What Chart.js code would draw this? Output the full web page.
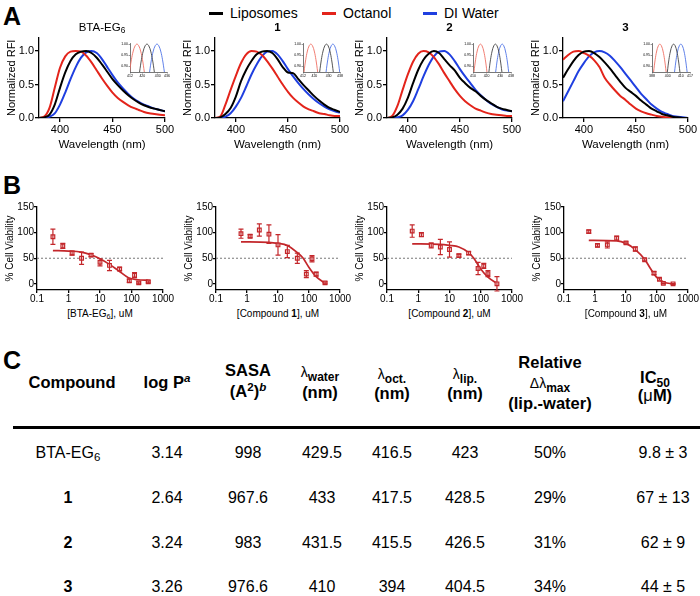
<!DOCTYPE html>
<html>
<head>
<meta charset="utf-8">
<script src="https://cdn.jsdelivr.net/npm/chart.js@4.4.0/dist/chart.umd.min.js"></script>
<style>
  body { margin: 0; width: 700px; height: 596px; position: relative; background: #fff; overflow: hidden;
         font-family: 'Liberation Sans', Arial, sans-serif; color: #000; }
  canvas { position: absolute; }
  .t { position: absolute; white-space: nowrap; text-align: center; }
  .panel { position: absolute; font-weight: bold; font-size: 25px; }
  .leg { position: absolute; font-size: 14px; line-height: 16px; }
  .sw { display: inline-block; width: 14px; height: 3px; vertical-align: middle; margin-right: 7px; margin-top: -2px; }
  sub { font-size: 0.72em; vertical-align: -0.3em; line-height: 0; }
  sup { font-size: 0.7em; vertical-align: 0.5em; line-height: 0; }
  .hd { font-weight: bold; font-size: 16.5px; }
  .lam { font-weight: normal; font-size: 14px; }
  .hd sub { font-size: 12px; }
  .val { font-size: 16px; }
</style>
</head>
<body>
<div class="panel" style="left:3px;top:2px">A</div>
<div class="panel" style="left:3px;top:171px">B</div>
<div class="panel" style="left:3px;top:346px">C</div>

<div class="leg" style="left:209px;top:5px"><span class="sw" style="background:#000"></span>Liposomes</div>
<div class="leg" style="left:322px;top:5px"><span class="sw" style="background:#e3241b"></span>Octanol</div>
<div class="leg" style="left:423px;top:5px"><span class="sw" style="background:#1f3fe0"></span>DI Water</div>

<script>
// ---- panel A: normalized emission spectra ----
const wavelengths = [380,385,390,395,400,405,410,415,420,425,430,435,440,445,450,455,460,465,470,475,480,485,490,495,500];

const btaLip   = [0,0.01,0.05,0.2,0.45,0.68,0.85,0.95,0.99,1.0,0.97,0.9,0.8,0.69,0.58,0.49,0.41,0.34,0.28,0.23,0.19,0.16,0.14,0.12,0.10];
const btaOct   = [0,0.02,0.15,0.45,0.75,0.92,0.99,1.0,0.99,0.93,0.83,0.71,0.59,0.48,0.38,0.30,0.24,0.19,0.15,0.12,0.09,0.07,0.06,0.05,0.04];
const btaWater = [0,0,0.02,0.07,0.2,0.38,0.58,0.76,0.9,0.98,1.0,0.97,0.88,0.76,0.64,0.53,0.44,0.36,0.29,0.24,0.2,0.17,0.14,0.12,0.10];

const c1Lip   = [0,0.01,0.06,0.15,0.32,0.55,0.72,0.85,0.95,0.99,1.0,0.97,0.88,0.76,0.68,0.67,0.58,0.49,0.41,0.33,0.26,0.2,0.15,0.12,0.09];
const c1Oct   = [0,0.02,0.2,0.42,0.63,0.82,0.95,1.0,0.99,0.94,0.85,0.74,0.62,0.5,0.39,0.3,0.23,0.17,0.13,0.1,0.07,0.06,0.04,0.03,0.03];
const c1Water = [0,0,0.02,0.07,0.17,0.3,0.47,0.65,0.8,0.92,0.99,1.0,0.95,0.85,0.73,0.62,0.52,0.43,0.35,0.28,0.22,0.17,0.13,0.1,0.08];

const c2Lip   = [0,0.01,0.05,0.14,0.3,0.52,0.72,0.87,0.96,1.0,0.97,0.88,0.79,0.71,0.6,0.52,0.45,0.4,0.33,0.27,0.22,0.17,0.14,0.12,0.1];
const c2Oct   = [0,0.03,0.18,0.42,0.65,0.84,0.96,1.0,0.98,0.91,0.8,0.67,0.55,0.43,0.33,0.25,0.19,0.14,0.11,0.08,0.06,0.05,0.04,0.03,0.03];
const c2Water = [0,0,0.01,0.04,0.12,0.25,0.43,0.62,0.79,0.92,0.99,1.0,0.95,0.85,0.73,0.62,0.52,0.42,0.34,0.27,0.21,0.17,0.13,0.11,0.1];

const c3Lip   = [0.6,0.73,0.85,0.94,0.99,1.0,0.97,0.91,0.83,0.74,0.64,0.54,0.45,0.39,0.33,0.26,0.2,0.14,0.1,0.06,0.04,0.02,0.01,0,0];
const c3Oct   = [0.87,0.94,0.99,1.0,0.97,0.93,0.86,0.76,0.6,0.5,0.41,0.33,0.27,0.2,0.14,0.1,0.07,0.05,0.03,0.02,0.01,0.01,0,0,0];
const c3Water = [0.25,0.4,0.55,0.7,0.82,0.92,0.98,1.0,0.98,0.93,0.85,0.76,0.66,0.56,0.46,0.36,0.28,0.2,0.14,0.09,0.06,0.03,0.02,0.01,0];

const liposomes = [btaLip, c1Lip, c2Lip, c3Lip];
const octanol   = [btaOct, c1Oct, c2Oct, c3Oct];
const diWater   = [btaWater, c1Water, c2Water, c3Water];

// inset arc shape (peak-normalised, nm offset from the maximum)
const arcDx = [-4.8,-3.6,-2.4,-1.2,0,1.2,2.4,3.6,4.8];
const arcY  = [0.875,0.93,0.969,0.992,1.0,0.992,0.969,0.93,0.875];

// ---- panel B: cell viability ----
const concB = [
  [0.32,0.66,1.3,2.6,5.2,10,20,42,85,125,170,340],
  [0.64,1.26,2.5,5.1,10,20,42,82,125,170,330],
  [0.64,1.26,2.6,5.1,10,20,41,82,125,170,330],
  [0.63,1.2,2.5,5,10,20,40,80,120,160,330]
];
const viability = [
  [92,74,60,50,56,42,36,29,6,17,2,4],
  [98,93,105,97,76,63,50,19,49,19,2],
  [103,96,75,72,67,55,60,30,35,20,0],
  [102,75,76,89,80,68,47,21,9,1,0]
];
const viabErr = [
  [15,5,4,12,3,7,10,3,3,5,2,2],
  [9,3,12,18,20,12,10,7,6,4,2],
  [12,4,5,15,15,3,3,12,5,6,14],
  [3,3,6,4,2,4,2,3,2,1,1]
];
const fitX = [
  [0.32,1,2.5,5,10,20,40,80,160,340],
  [0.64,5,10,20,42,65,100,170,330],
  [0.64,5,10,20,41,60,100,170,330],
  [0.63,5,10,20,40,60,100,170,330]
];
const fitY = [
  [65,64,62,57,49,38,25,12,8,7],
  [82,81,79,75,61,50,32,14,1],
  [78,77,75,72,61,50,29,13,1],
  [85,84,79,67,48,31,12,3,0]
];
const refLine = [50, 50];

// ---- panel C: table ----
const compounds   = ['BTA-EG6', '1', '2', '3'];
const logP        = ['3.14', '2.64', '3.24', '3.26'];
const sasa        = ['998', '967.6', '983', '976.6'];
const lambdaWater = [429.5, 433, 431.5, 410];
const lambdaOct   = [416.5, 417.5, 415.5, 394];
const lambdaLip   = [423, 428.5, 426.5, 404.5];
const relShift    = ['50%', '29%', '31%', '34%'];
const ic50        = ['9.8 ± 3', '67 ± 13', '62 ± 9', '44 ± 5'];

const spectraTitles = ['BTA-EG<sub>6</sub>', '<b>1</b>', '<b>2</b>', '<b>3</b>'];
const concTitles = ['[BTA-EG<sub>6</sub>], uM', '[Compound <b>1</b>], uM', '[Compound <b>2</b>], uM', '[Compound <b>3</b>], uM'];

// ---------------------------------------------------------------
Chart.defaults.font.family = "'Liberation Sans', Arial, sans-serif";
Chart.defaults.color = '#000';
Chart.defaults.animation = false;

const RED = '#e3241b', BLUE = '#1f3fe0', DARKRED = '#c3272b';

const mkCanvas = (x, y, w, h) => {
  const c = document.createElement('canvas');
  c.width = w; c.height = h;
  c.style.left = x + 'px'; c.style.top = y + 'px';
  document.body.appendChild(c);
  return c;
};

const putText = (html, cx, top, cls, style) => {
  const d = document.createElement('div');
  d.className = 't ' + (cls || '');
  d.style.left = (cx - 150) + 'px';
  d.style.width = '300px';
  d.style.top = top + 'px';
  if (style) d.style.cssText += style;
  d.innerHTML = html;
  document.body.appendChild(d);
};

const axisLine = { display: true, color: '#000', width: 1.3 };
const tickGrid = (len) => ({ display: true, drawOnChartArea: false, drawTicks: true, tickLength: len, color: '#000', lineWidth: 1.3 });
const setTicks = (vals) => (s) => { s.ticks = vals.map(v => ({ value: v })); };
const pts = (xs, ys) => xs.map((x, k) => ({ x: x, y: ys[k] }));

// error bar plugin - uses the chart's own scales
const errorBars = {
  id: 'errorBars',
  afterDatasetsDraw(chart) {
    const { ctx, scales: { x, y } } = chart;
    chart.data.datasets.forEach(ds => {
      if (!ds.errors) return;
      ctx.save();
      ctx.strokeStyle = ds.borderColor;
      ctx.lineWidth = 1.2;
      ds.data.forEach((p, k) => {
        const e = ds.errors[k];
        if (!e) return;
        const px = x.getPixelForValue(p.x);
        const t = y.getPixelForValue(p.y + e), b = y.getPixelForValue(p.y - e);
        ctx.beginPath();
        ctx.moveTo(px, t); ctx.lineTo(px, b);
        ctx.moveTo(px - 2.5, t); ctx.lineTo(px + 2.5, t);
        ctx.moveTo(px - 2.5, b); ctx.lineTo(px + 2.5, b);
        ctx.stroke();
      });
      ctx.restore();
    });
  }
};

// ---- panel A charts ----
const specPlots = [[39, 165], [215, 340], [387, 512], [563, 688]];
const insetBox  = [[130, 167], [303, 340], [473, 511], [652, 690]];
const insetX    = [[412, 436], [412, 438], [410, 438], [388, 417]];

specPlots.forEach(([l, r], i) => {
  const cv = mkCanvas(l - 39, 30, r - l + 39 + 14, 122);
  new Chart(cv, {
    type: 'line',
    data: { datasets: [
      { label: 'Liposomes', data: pts(wavelengths, liposomes[i]), borderColor: '#000' },
      { label: 'Octanol', data: pts(wavelengths, octanol[i]), borderColor: RED },
      { label: 'DI Water', data: pts(wavelengths, diWater[i]), borderColor: BLUE }
    ] },
    options: {
      responsive: false,
      layout: { padding: { top: 7, right: 14, left: 0, bottom: 0 } },
      elements: { point: { radius: 0 }, line: { borderWidth: 2, cubicInterpolationMode: 'monotone' } },
      plugins: { legend: { display: false }, tooltip: { enabled: false } },
      scales: {
        x: { type: 'linear', min: 380, max: 500, afterBuildTicks: setTicks([400, 450, 500]),
             afterFit: s => { s.height = 34; }, border: axisLine, grid: tickGrid(4),
             ticks: { font: { size: 11 }, padding: 1, maxRotation: 0 },
             title: { display: true, text: 'Wavelength (nm)', font: { size: 11.5 }, padding: 0 } },
        y: { min: 0, max: 1.2, afterBuildTicks: setTicks([0, 0.5, 1]),
             afterFit: s => { s.width = 39; }, border: axisLine, grid: tickGrid(4),
             ticks: { font: { size: 11 }, padding: 1, callback: v => v.toFixed(1) },
             title: { display: true, text: 'Normalized RFI', font: { size: 11 }, padding: { top: 5, bottom: 0 } } }
      }
    }
  });
  putText(spectraTitles[i], (l + r) / 2, 21, '', 'font-size:11.5px');

  // inset: zoom on the maxima
  const [il, ir] = insetBox[i];
  const peaks = [lambdaLip[i], lambdaOct[i], lambdaWater[i]];
  const arc = (p) => arcDx.map((d, k) => ({ x: p + d, y: arcY[k] }));
  const ic = mkCanvas(il - 11, 40, ir - il + 11 + 3, 38);
  new Chart(ic, {
    type: 'line',
    data: { datasets: [
      { data: arc(peaks[0]), borderColor: '#444' },
      { data: arc(peaks[1]), borderColor: '#ef6f63' },
      { data: arc(peaks[2]), borderColor: '#4f74e6' }
    ] },
    options: {
      responsive: false,
      layout: { padding: { top: 3, right: 3, left: 0, bottom: 0 } },
      elements: { point: { radius: 0 }, line: { borderWidth: 0.9, tension: 0.4 } },
      plugins: { legend: { display: false }, tooltip: { enabled: false } },
      scales: {
        x: { type: 'linear', min: insetX[i][0], max: insetX[i][1],
             afterFit: s => { s.height = 6; }, border: { display: true, color: '#555', width: 0.8 },
             grid: { display: true, drawOnChartArea: false, tickLength: 1.5, color: '#555', lineWidth: 0.6 },
             ticks: { font: { size: 3.5 }, padding: 0, stepSize: 10, maxRotation: 0 } },
        y: { min: 0.875, max: 1.005, afterBuildTicks: setTicks([0.9, 0.95, 1.0]),
             afterFit: s => { s.width = 11; }, border: { display: true, color: '#555', width: 0.8 },
             grid: { display: true, drawOnChartArea: false, tickLength: 1.5, color: '#555', lineWidth: 0.6 },
             ticks: { font: { size: 3.5 }, padding: 0.5, callback: v => v.toFixed(2) } }
      }
    }
  });
});

// ---- panel B charts ----
const viabPlots = [[37, 163], [216, 340], [387, 512], [564, 688]];

viabPlots.forEach(([l, r], i) => {
  const cv = mkCanvas(l - 37, 200, r - l + 37 + 14, 106);
  new Chart(cv, {
    type: 'line',
    data: { datasets: [
      { data: pts(concB[i], viability[i]), errors: viabErr[i], showLine: false, borderColor: DARKRED,
        backgroundColor: '#fff', pointStyle: 'rect', pointRadius: 2.6, pointBorderWidth: 1.2 },
      { data: pts(fitX[i], fitY[i]), borderColor: DARKRED, borderWidth: 1.7, pointRadius: 0, cubicInterpolationMode: 'monotone' },
      { data: pts([0.1, 1000], refLine), borderColor: '#777', borderWidth: 1, borderDash: [2, 2], pointRadius: 0 }
    ] },
    options: {
      responsive: false,
      layout: { padding: { top: 7, right: 14, left: 0, bottom: 0 } },
      plugins: { legend: { display: false }, tooltip: { enabled: false } },
      scales: {
        x: { type: 'logarithmic', min: 0.1, max: 1000, afterBuildTicks: setTicks([0.1, 1, 10, 100, 1000]),
             afterFit: s => { s.height = 16; }, border: axisLine, grid: tickGrid(3),
             ticks: { font: { size: 10 }, padding: 0, maxRotation: 0, callback: v => String(v) } },
        y: { min: -12, max: 150, afterBuildTicks: setTicks([0, 50, 100, 150]),
             afterFit: s => { s.width = 37; }, border: axisLine, grid: tickGrid(3),
             ticks: { font: { size: 10 }, padding: 0 },
             title: { display: true, text: '% Cell Viability', font: { size: 10 }, padding: { top: 4, bottom: 0 } } }
      }
    },
    plugins: [errorBars]
  });
  putText(concTitles[i], (l + r) / 2, 308, '', 'font-size:10px');
});

// ---- panel C table ----
const headTop = 360;
putText('Compound', 72, 373, 'hd');
putText('log P<sup><i>a</i></sup>', 167, 373, 'hd');
putText('SASA<br>(A<sup>2</sup>)<sup><i>b</i></sup>', 248, headTop, 'hd', 'line-height:21px');
putText('<span class="lam">λ</span><sub>water</sub><br>(nm)', 320, headTop + 1, 'hd', 'line-height:20px');
putText('<span class="lam">λ</span><sub>oct.</sub><br>(nm)', 392, headTop + 4, 'hd', 'line-height:19px');
putText('<span class="lam">λ</span><sub>lip.</sub><br>(nm)', 465, headTop + 4, 'hd', 'line-height:19px');
putText('Relative<br><span class="lam">Δλ</span><sub>max</sub><br>(lip.-water)', 550, 352, 'hd', 'line-height:20px');
putText('IC<sub>50</sub><br>(<span style="font-weight:normal">μ</span>M)', 655, 368, 'hd', 'line-height:18px');

const rule = document.createElement('div');
rule.style.cssText = 'position:absolute;left:13px;top:426px;width:687px;height:2.5px;background:#000';
document.body.appendChild(rule);

const rowY = [444, 489, 534, 578];
const colX = [68, 167, 248, 322, 392, 465, 550, 663];
compounds.forEach((c, k) => {
  const name = c === 'BTA-EG6' ? 'BTA-EG<sub>6</sub>' : '<b>' + c + '</b>';
  const cells = [name, logP[k], sasa[k], lambdaWater[k], lambdaOct[k], lambdaLip[k], relShift[k], ic50[k]];
  cells.forEach((v, j) => putText(String(v), colX[j], rowY[k], 'val'));
});
</script>
</body>
</html>
